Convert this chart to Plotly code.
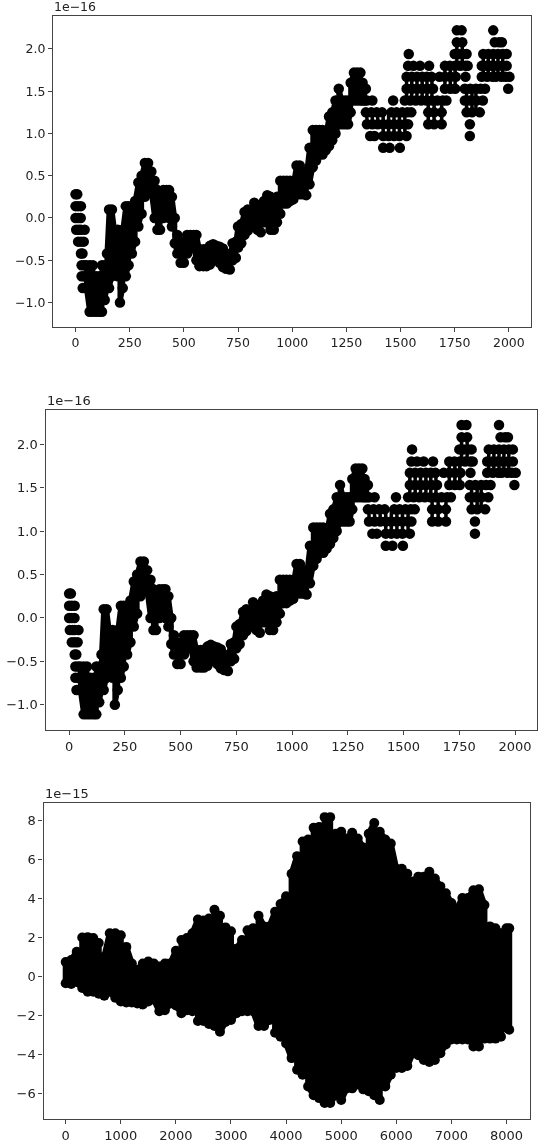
import plotly.graph_objects as go

# ---- Series shared by the two upper panels (values in units of 1e-16) ----
band_x = [50,65,80,95,110,122,135,145,155,168,180,195,205,218,232,245,260,275,290,305,320,335,350,365,378,390,405,420,432,445,458,470,485,500,515,530,545,558,572,590,605,620,635,650,665,680,695,712,725,740,750,765,780,795,810,825,840,855,870,885,900,915,930,945,960,975,990,1005,1020,1035,1050,1065,1080,1095,1110,1125,1140,1155,1170,1185,1200,1215,1230,1245,1258,1270,1285,1300,1315,1325,1335]
band_hi = [-0.56,-0.56,-0.56,-0.69,-0.69,-0.56,-0.56,-0.42,0.1,0.1,-0.14,-0.14,-0.55,-0.14,0.14,0.14,0.14,0.2,0.42,0.5,0.65,0.65,0.55,0.44,0.33,0.3,0.33,0.33,0.33,0.25,0.0,-0.2,-0.28,-0.3,-0.2,-0.2,-0.2,-0.2,-0.37,-0.37,-0.37,-0.33,-0.31,-0.33,-0.34,-0.36,-0.42,-0.45,-0.3,-0.28,-0.1,-0.07,0.07,0.1,0.08,0.18,0.15,0.1,0.2,0.27,0.25,0.2,0.25,0.44,0.44,0.44,0.44,0.4,0.62,0.62,0.55,0.5,0.83,1.04,1.04,1.04,1.04,0.97,1.2,1.25,1.39,1.53,1.39,1.39,1.39,1.6,1.72,1.72,1.72,1.6,1.53]
band_lo = [-0.83,-1.11,-1.11,-1.11,-1.11,-1.11,-0.97,-0.83,-0.83,-0.69,-0.56,-0.69,-1.0,-0.83,-0.69,-0.56,-0.42,-0.28,-0.1,0.05,0.25,0.37,0.3,0.0,-0.14,-0.14,0.0,0.05,0.0,-0.1,-0.3,-0.42,-0.53,-0.53,-0.42,-0.35,-0.35,-0.5,-0.57,-0.57,-0.57,-0.55,-0.5,-0.47,-0.53,-0.58,-0.6,-0.61,-0.5,-0.47,-0.35,-0.3,-0.2,-0.15,-0.08,-0.1,-0.14,-0.17,-0.05,-0.05,-0.14,-0.14,-0.05,0.05,0.17,0.17,0.2,0.22,0.3,0.28,0.28,0.27,0.4,0.6,0.68,0.75,0.75,0.8,0.85,0.92,1.0,1.11,1.11,1.11,1.11,1.25,1.39,1.39,1.39,1.39,1.39]

# isolated points: one value per row and the x positions seen on that row
row_y = [2.22,2.08,1.94,1.80,1.67,1.53,1.39,1.25,1.11,0.97,0.83,0.28,0.14,0.0,-0.14,-0.28,-0.42,-0.56,-0.69,-0.83]
row_x = [
    [1760,1782,1928],
    [1760,1785,1935,1955,1968],
    [1538,1750,1770,1790,1805,1882,1905,1928,1950,1972,1990],
    [1535,1560,1590,1632,1705,1728,1752,1776,1800,1810,1875,1898,1920,1945,1968,1990],
    [1528,1552,1576,1600,1622,1643,1680,1705,1730,1755,1800,1875,1900,1925,1940,1966,1985,2003],
    [1340,1528,1552,1576,1600,1625,1650,1705,1730,1752,1797,1822,1848,1870,1890,1997],
    [1345,1370,1466,1520,1545,1570,1595,1620,1645,1670,1695,1712,1797,1822,1850,1880],
    [1340,1365,1390,1415,1458,1482,1508,1532,1550,1628,1655,1690,1805,1830,1866],
    [1345,1370,1395,1420,1445,1470,1495,1520,1535,1628,1655,1690,1820],
    [1360,1380,1420,1445,1470,1495,1528,1820],
    [1420,1450,1497],
    [0,8],
    [0,12,25],
    [0,12,24],
    [3,15,25,42],
    [12,25,38],
    [25,32],
    [28,40],
    [28,40],
    [33,45],
]

# columns where the rows merge into a solid block: x, top value, bottom value
solid_x = [1345,1370,1395,1420,1445,1470,1495,1520,1528,1552,1576,1600,1622,1645,1628,1655,1690,1705,1730,1752,1760,1785,1805,1830,1848,1882,1905,1928,1950,1972]
solid_hi = [1.25,1.25,1.25,1.25,1.25,1.25,1.25,1.25,1.67,1.67,1.67,1.67,1.67,1.67,1.39,1.39,1.39,1.8,1.8,1.8,2.08,2.08,1.53,1.53,1.53,1.94,1.94,1.94,1.94,1.94]
solid_lo = [1.11,1.11,1.11,0.97,0.97,0.97,0.97,0.97,1.39,1.39,1.39,1.39,1.39,1.39,1.11,1.11,1.11,1.53,1.53,1.53,1.8,1.8,1.25,1.25,1.25,1.67,1.67,1.67,1.67,1.67]

# ---- Series of the lower panel (values in units of 1e-15) ----
wave_x = [0,100,200,300,400,500,600,700,800,900,1000,1100,1200,1300,1400,1500,1600,1700,1800,1900,2000,2100,2200,2300,2400,2500,2600,2700,2800,2900,3000,3100,3200,3300,3400,3500,3600,3700,3800,3900,4000,4100,4200,4300,4400,4500,4600,4700,4800,4900,5000,5100,5200,5300,5400,5500,5600,5700,5800,5900,6000,6100,6200,6300,6400,6500,6600,6700,6800,6900,7000,7100,7200,7300,7400,7500,7600,7700,7800,7900,8000,8050]
wave_hi = [0.73,0.83,1.25,1.98,2.0,1.95,1.7,1.0,2.2,2.2,2.1,1.5,0.65,0.33,0.65,0.75,0.65,0.5,0.65,0.65,1.3,1.85,1.95,2.2,2.9,2.85,2.95,3.4,3.1,2.5,2.3,1.4,1.85,2.35,2.45,3.1,2.55,2.55,3.3,3.7,4.1,5.25,6.15,6.9,7.0,7.6,7.65,8.15,8.15,7.3,7.4,7.05,7.35,7.05,6.6,7.3,7.85,7.4,7.0,6.8,5.5,5.5,5.25,4.85,5.1,5.1,5.35,5.0,4.6,4.25,3.75,3.45,4.0,4.0,4.4,4.45,3.65,2.55,2.45,2.2,2.45,2.45]
wave_lo = [-0.36,-0.4,-0.3,-0.6,-0.8,-0.8,-0.9,-1.0,-0.8,-1.1,-1.3,-1.35,-1.35,-1.4,-1.45,-1.3,-1.2,-1.8,-1.75,-1.4,-1.5,-1.9,-1.75,-1.8,-2.3,-2.3,-2.45,-2.55,-2.85,-2.35,-2.25,-1.9,-1.8,-1.8,-1.8,-2.55,-2.55,-2.25,-2.9,-3.1,-3.45,-4.2,-4.8,-5.05,-5.65,-6.1,-6.25,-6.5,-6.5,-6.1,-6.35,-5.75,-5.75,-5.55,-5.8,-5.9,-6.1,-6.35,-5.65,-5.05,-4.7,-4.7,-4.6,-3.95,-4.05,-4.3,-4.4,-4.3,-3.95,-3.5,-3.25,-3.25,-3.25,-3.25,-3.6,-3.6,-3.2,-3.2,-3.2,-3.1,-2.65,-2.75]

# ---- Axis ticks ----
xt_small = [0,250,500,750,1000,1250,1500,1750,2000]
yt_small = [-1.0,-0.5,0.0,0.5,1.0,1.5,2.0]
yl_small = ["\u22121.0","\u22120.5","0.0","0.5","1.0","1.5","2.0"]
xt_big = [0,1000,2000,3000,4000,5000,6000,7000,8000]
yt_big = [-6,-4,-2,0,2,4,6,8]
yl_big = ["\u22126","\u22124","\u22122","0","2","4","6","8"]
offsets = ["1e\u221216","1e\u221216","1e\u221215"]

W, H = 538, 1142
INK = "#000000"
EDGE = "#444444"
TXT = "#222222"


def zigzag(x, hi, lo):
    xs, ys = [], []
    for i, (a, h, l) in enumerate(zip(x, hi, lo)):
        xs += [a, a]
        ys += [h, l] if i % 2 == 0 else [l, h]
    return xs, ys


dots_x = [a for row in row_x for a in row]
dots_y = [v for v, row in zip(row_y, row_x) for _ in row]
solid_xs, solid_ys = [], []
for a, h, l in zip(solid_x, solid_hi, solid_lo):
    solid_xs += [a, a, None]
    solid_ys += [h, l, None]

fig = go.Figure()
panels = [
    dict(n="", box=(53, 530.5, 16, 327), xr=[-104, 2100], yr=[-1.29, 2.39], xt=xt_small, yt=yt_small, yl=yl_small, fs=12.5, off=offsets[0]),
    dict(n="2", box=(45.5, 536.7, 410.3, 730), xr=[-106, 2097], yr=[-1.29, 2.39], xt=xt_small, yt=yt_small, yl=yl_small, fs=13, off=offsets[1]),
    dict(n="3", box=(43.5, 530, 802.7, 1119), xr=[-403, 8427], yr=[-7.32, 8.89], xt=xt_big, yt=yt_big, yl=yl_big, fs=13, off=offsets[2]),
]

ann = []
for p in panels:
    n = p["n"]
    l, r, t, b = p["box"]
    ax = dict(
        domain=[l / W, r / W], range=p["xr"], tickmode="array", tickvals=p["xt"],
        ticks="outside", ticklen=4, tickwidth=1, tickcolor=EDGE, showline=True, linecolor=EDGE,
        linewidth=1.3, mirror=True, showgrid=False, zeroline=False,
        tickfont=dict(family="DejaVu Sans", size=p["fs"], color=TXT), anchor="y" + n,
    )
    ay = dict(
        domain=[1 - b / H, 1 - t / H], range=p["yr"], tickmode="array", tickvals=p["yt"], ticktext=p["yl"],
        ticks="outside", ticklen=4, tickwidth=1, tickcolor=EDGE, showline=True, linecolor=EDGE,
        linewidth=1.3, mirror=True, showgrid=False, zeroline=False,
        tickfont=dict(family="DejaVu Sans", size=p["fs"], color=TXT), anchor="x" + n,
    )
    fig.update_layout({"xaxis" + n: ax, "yaxis" + n: ay})
    ann.append(dict(x=l / W, y=1 - (t - 1) / H, xref="paper", yref="paper", xanchor="left", yanchor="bottom",
                    text=p["off"], showarrow=False, borderpad=0,
                    font=dict(family="DejaVu Sans", size=p["fs"], color=TXT)))
    if n == "3":
        xs, ys = zigzag(wave_x, wave_hi, wave_lo)
        fig.add_trace(go.Scatter(x=xs, y=ys, mode="lines+markers", xaxis="x3", yaxis="y3", showlegend=False,
                                 line=dict(color=INK, width=6), marker=dict(color=INK, size=10)))
    else:
        xs, ys = zigzag(band_x, band_hi, band_lo)
        fig.add_trace(go.Scatter(x=xs, y=ys, mode="lines+markers", xaxis="x" + n, yaxis="y" + n, showlegend=False,
                                 line=dict(color=INK, width=5), marker=dict(color=INK, size=10.5)))
        fig.add_trace(go.Scatter(x=solid_xs, y=solid_ys, mode="lines", xaxis="x" + n, yaxis="y" + n, showlegend=False,
                                 connectgaps=False, line=dict(color=INK, width=3.5)))
        fig.add_trace(go.Scatter(x=dots_x, y=dots_y, mode="markers", xaxis="x" + n, yaxis="y" + n, showlegend=False,
                                 marker=dict(color=INK, size=10.5)))

fig.update_layout(width=W, height=H, autosize=False, margin=dict(l=0, r=0, t=0, b=0),
                  paper_bgcolor="white", plot_bgcolor="white", annotations=ann, showlegend=False)
# the reference picture is soft (it was upscaled), so the page is softened a little too
fig.write_html("out.html", config={"displayModeBar": False},
               post_script="document.body.style.margin='0';document.body.style.overflow='hidden';"
                           "document.querySelector('.plotly-graph-div').style.filter='blur(0.6px)';")
